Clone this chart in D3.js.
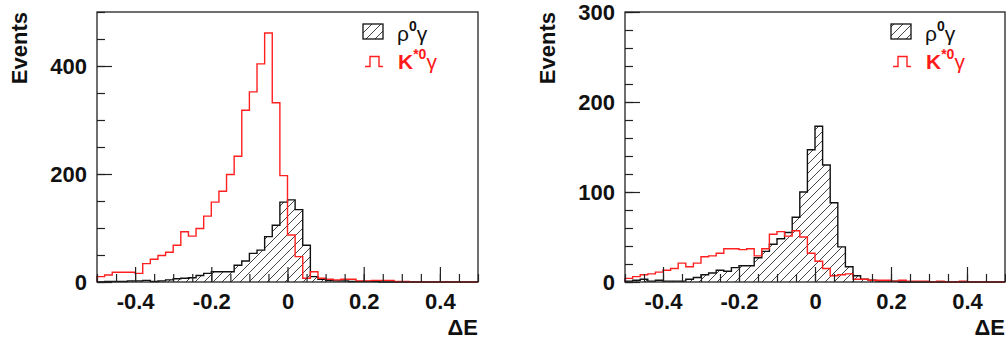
<!DOCTYPE html>
<html>
<head>
<meta charset="utf-8">
<script src="https://cdn.jsdelivr.net/npm/d3@7"></script>
<style>
  body { margin: 0; background: #fff; }
  svg text { font-family: "Liberation Sans", Arial, sans-serif; }
</style>
</head>
<body>
<svg id="chart" width="1006" height="343"></svg>
<script>
// 50 bins of 0.02 from -0.5 to 0.5
var binEdges = d3.range(51).map(i => -0.5 + i * 0.02);

// left panel
var leftRho = [0,1,1,1,2,2,3,1,2,4, 6,7,8,12,16,19,19,19,31,39, 53,59,84,105,148,152,134,68,10,5, 3,2,2,1,1,1,1,0,0,0, 0,0,0,0,0,0,0,0,0,0];
var leftKstar = [10,13,18,18,18,16,34,42,49,55, 68,93,85,99,122,148,168,199,233,318, 352,404,461,332,197,87,47,7,19,7, 5,4,5,5,2,2,3,3,3,1, 1,0,0,0,0,0,0,0,0,0];

// right panel
var rightRho = [1,2,3,1,2,1,1,1,3,5, 8,10,13,12,16,18,18,27,34,42, 48,55,72,100,147,173,130,88,39,17, 7,3,2,1,1,1,0,0,0,0, 0,0,0,0,0,0,0,0,0,0];
var rightKstar = [4,6,8,9,11,13,15,21,17,21, 28,29,32,37,37,36,37,29,37,53, 56,51,57,50,32,23,15,7,8,9, 3,3,2,2,2,1,2,1,1,1, 0,1,0,0,1,0,0,0,0,0];

var xTicks = [-0.4, -0.2, 0, 0.2, 0.4];
var xMinor = d3.range(21).map(i => -0.5 + i * 0.05);
var leftYTicks = [0, 200, 400];
var rightYTicks = [0, 100, 200, 300];

var svg = d3.select("#chart");

// hatch pattern for rho0 gamma
svg.append("defs")
  .append("pattern")
  .attr("id", "hatch")
  .attr("patternUnits", "userSpaceOnUse")
  .attr("width", 9)
  .attr("height", 9)
  .append("path")
  .attr("d", "M-1,1 L1,-1 M0,9 L9,0 M8,10 L10,8")
  .attr("stroke", "#444")
  .attr("stroke-width", 1);

var plotTop = 12, plotBottom = 282;

function drawPanel(opts) {
  var x = d3.scaleLinear().domain([-0.5, 0.5]).range([opts.x0, opts.x1]);
  var y = d3.scaleLinear().domain([0, opts.yMax]).range([plotBottom, plotTop]);
  var g = svg.append("g");

  function stepPath(values) {
    var pts = [[x(-0.5), y(0)]];
    values.forEach((v, i) => {
      pts.push([x(binEdges[i]), y(v)]);
      pts.push([x(binEdges[i + 1]), y(v)]);
    });
    pts.push([x(0.5), y(0)]);
    return d3.line()(pts);
  }

  // histograms
  g.append("path")
    .attr("d", stepPath(opts.rho))
    .attr("fill", "url(#hatch)")
    .attr("stroke", "#111")
    .attr("stroke-width", 1.4);

  g.append("path")
    .attr("d", stepPath(opts.kstar))
    .attr("fill", "none")
    .attr("stroke", "#ff2020")
    .attr("stroke-width", 1.4);

  // frame
  g.append("rect")
    .attr("x", opts.x0)
    .attr("y", plotTop)
    .attr("width", opts.x1 - opts.x0)
    .attr("height", plotBottom - plotTop)
    .attr("fill", "none")
    .attr("stroke", "#222")
    .attr("stroke-width", 1.3);

  // x axis
  var xMinorAxis = g.append("g")
    .attr("transform", `translate(0,${plotBottom})`)
    .call(d3.axisBottom(x).tickValues(xMinor).tickSize(-8).tickFormat(""));
  var xAxis = g.append("g")
    .attr("transform", `translate(0,${plotBottom})`)
    .call(d3.axisBottom(x).tickValues(xTicks).tickSize(-15).tickPadding(11)
      .tickFormat(d => String(d)));

  // y axis
  var yMinorAxis = g.append("g")
    .attr("transform", `translate(${opts.x0},0)`)
    .call(d3.axisLeft(y).tickValues(d3.range(0, opts.yMax + 1, opts.yMinorStep))
      .tickSize(-8).tickFormat(""));
  var yAxis = g.append("g")
    .attr("transform", `translate(${opts.x0},0)`)
    .call(d3.axisLeft(y).tickValues(opts.yTicks).tickSize(-15).tickPadding(10));

  [xMinorAxis, xAxis, yMinorAxis, yAxis].forEach(a => {
    a.select(".domain").remove();
    a.selectAll("line").attr("stroke", "#222").attr("stroke-width", 1.2);
    a.selectAll("text")
      .attr("fill", "#111")
      .style("font-size", "22px")
      .style("font-weight", "bold");
  });

  // axis titles
  g.append("text")
    .attr("transform", `translate(${opts.x0 - 70},${plotTop}) rotate(-90)`)
    .attr("text-anchor", "end")
    .style("font-size", "22px")
    .style("font-weight", "bold")
    .attr("fill", "#111")
    .text("Events");

  g.append("text")
    .attr("x", opts.x1)
    .attr("y", 335)
    .attr("text-anchor", "end")
    .style("font-size", "22px")
    .style("font-weight", "bold")
    .attr("fill", "#111")
    .text("\u0394E");

  // legend
  var lx = opts.x0 + 266;
  g.append("rect")
    .attr("x", lx)
    .attr("y", 24)
    .attr("width", 20)
    .attr("height", 15)
    .attr("fill", "url(#hatch)")
    .attr("stroke", "#111")
    .attr("stroke-width", 1.3);

  g.append("path")
    .attr("d", `M${lx + 2},66.5 H${lx + 7} V56.5 H${lx + 16} V66.5 H${lx + 20}`)
    .attr("fill", "none")
    .attr("stroke", "#ff2020")
    .attr("stroke-width", 1.4);

  var t1 = g.append("text")
    .attr("x", lx + 34)
    .attr("y", 41)
    .attr("fill", "#111")
    .style("font-size", "21px");
  t1.append("tspan").text("\u03c1");
  t1.append("tspan").attr("dy", -10).style("font-size", "14px").style("font-weight", "bold").text("0");
  t1.append("tspan").attr("dy", 10).text("\u03b3");

  var t2 = g.append("text")
    .attr("x", lx + 35)
    .attr("y", 69)
    .attr("fill", "#ff1a1a")
    .style("font-size", "21px");
  t2.append("tspan").style("font-weight", "bold").text("K");
  t2.append("tspan").attr("dy", -10).style("font-size", "14px").style("font-weight", "bold").text("*0");
  t2.append("tspan").attr("dy", 10).text("\u03b3");
}

drawPanel({ x0: 97, x1: 478, yMax: 500, yMinorStep: 50, yTicks: leftYTicks, rho: leftRho, kstar: leftKstar });
drawPanel({ x0: 625, x1: 1005, yMax: 300, yMinorStep: 20, yTicks: rightYTicks, rho: rightRho, kstar: rightKstar });
</script>
</body>
</html>
